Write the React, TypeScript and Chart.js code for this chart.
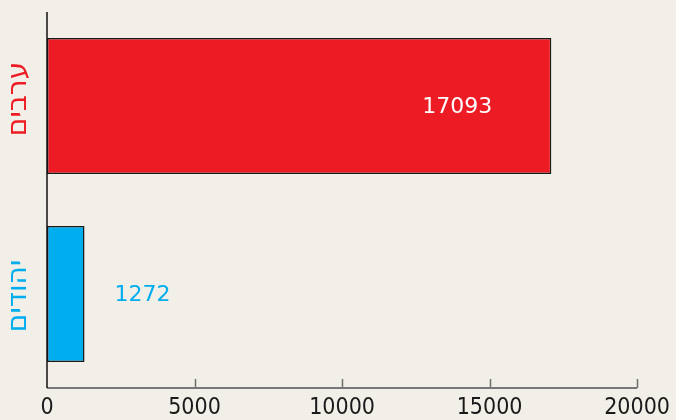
import React, { useEffect, useRef } from "react";
import { Chart, registerables } from "chart.js";

Chart.register(...registerables);

const categories = ["ערבים", "יהודים"];
const values = [17093, 1272];
const barColors = ["#ed1c24", "#00aeef"];
const labelColors = ["#ffffff", "#00aeef"];
const labelOffsets = [-94, 58];
const catLabelShift = [-7, 2];
const xTicks = [0, 5000, 10000, 15000, 20000];

const BG = "#f2efe8";

const decorPlugin = {
  id: "decor",
  beforeDraw(chart: any) {
    const { ctx, width, height } = chart;
    ctx.save();
    ctx.fillStyle = BG;
    ctx.fillRect(0, 0, width, height);
    ctx.restore();
  },
  afterDraw(chart: any) {
    const { ctx, chartArea } = chart;
    const xs = chart.scales.x;
    const ys = chart.scales.y;
    ctx.save();
    ctx.strokeStyle = "#6e6e6e";
    ctx.lineWidth = 1.5;
    xTicks.forEach((t) => {
      if (t === 0) return;
      const px = Math.round(xs.getPixelForValue(t)) + 0.5;
      ctx.beginPath();
      ctx.moveTo(px, chartArea.bottom);
      ctx.lineTo(px, chartArea.bottom - 9);
      ctx.stroke();
    });
    ctx.strokeStyle = "#777777";
    ctx.lineWidth = 2;
    ctx.beginPath();
    ctx.moveTo(chartArea.left, chartArea.bottom);
    ctx.lineTo(chartArea.right, chartArea.bottom);
    ctx.stroke();
    ctx.strokeStyle = "#111111";
    ctx.lineWidth = 1.5;
    ctx.beginPath();
    ctx.moveTo(chartArea.left, chartArea.top);
    ctx.lineTo(chartArea.left, chartArea.bottom);
    ctx.stroke();

    categories.forEach((c, i) => {
      const py = ys.getPixelForValue(i) + catLabelShift[i];
      ctx.save();
      ctx.translate(19, py);
      ctx.rotate(-Math.PI / 2);
      ctx.fillStyle = barColors[i];
      ctx.font = "28px 'DejaVu Sans'";
      ctx.textAlign = "center";
      ctx.textBaseline = "middle";
      ctx.fillText(c, 0, 0);
      ctx.restore();
    });

    const meta = chart.getDatasetMeta(0);
    meta.data.forEach((bar: any, i: number) => {
      ctx.fillStyle = labelColors[i];
      ctx.font = "22px 'DejaVu Sans'";
      ctx.textAlign = "center";
      ctx.textBaseline = "middle";
      ctx.fillText(String(values[i]), bar.x + labelOffsets[i], bar.y + 1);
    });
    ctx.restore();
  },
};

export default function App() {
  const ref = useRef<HTMLCanvasElement>(null);
  useEffect(() => {
    document.body.style.margin = "0";
    document.body.style.background = BG;
    const chart = new Chart(ref.current!, {
      type: "bar",
      data: {
        labels: categories,
        datasets: [
          {
            data: values,
            backgroundColor: barColors,
            borderColor: "#1a1a1a",
            borderWidth: 1.5,
            borderSkipped: false,
            barPercentage: 0.723,
            categoryPercentage: 1,
          },
        ],
      },
      options: {
        indexAxis: "y",
        animation: false,
        responsive: false,
        maintainAspectRatio: false,
        layout: { padding: { top: 12, right: 37, left: 0, bottom: 0 } },
        plugins: { legend: { display: false }, tooltip: { enabled: false } },
        scales: {
          x: {
            min: 0,
            max: 20000,
            afterBuildTicks: (s: any) => {
              s.ticks = xTicks.map((v) => ({ value: v }));
            },
            afterFit: (s: any) => {
              s.height = 32;
            },
            grid: { display: false, drawTicks: false },
            border: { display: false },
            ticks: {
              color: "#1a1a1a",
              font: { family: "'Liberation Sans Narrow', 'DejaVu Sans Condensed', 'Liberation Sans'", size: 23 },
              padding: 6,
              maxRotation: 0,
              autoSkip: false,
              callback: (v: any) => String(v),
            },
          },
          y: {
            afterFit: (s: any) => {
              s.width = 47;
            },
            grid: { display: false, drawTicks: false },
            border: { display: false },
            ticks: { display: false },
          },
        },
      },
      plugins: [decorPlugin],
    });
    return () => chart.destroy();
  }, []);
  return <canvas ref={ref} width={676} height={420} style={{ display: "block" }} />;
}
